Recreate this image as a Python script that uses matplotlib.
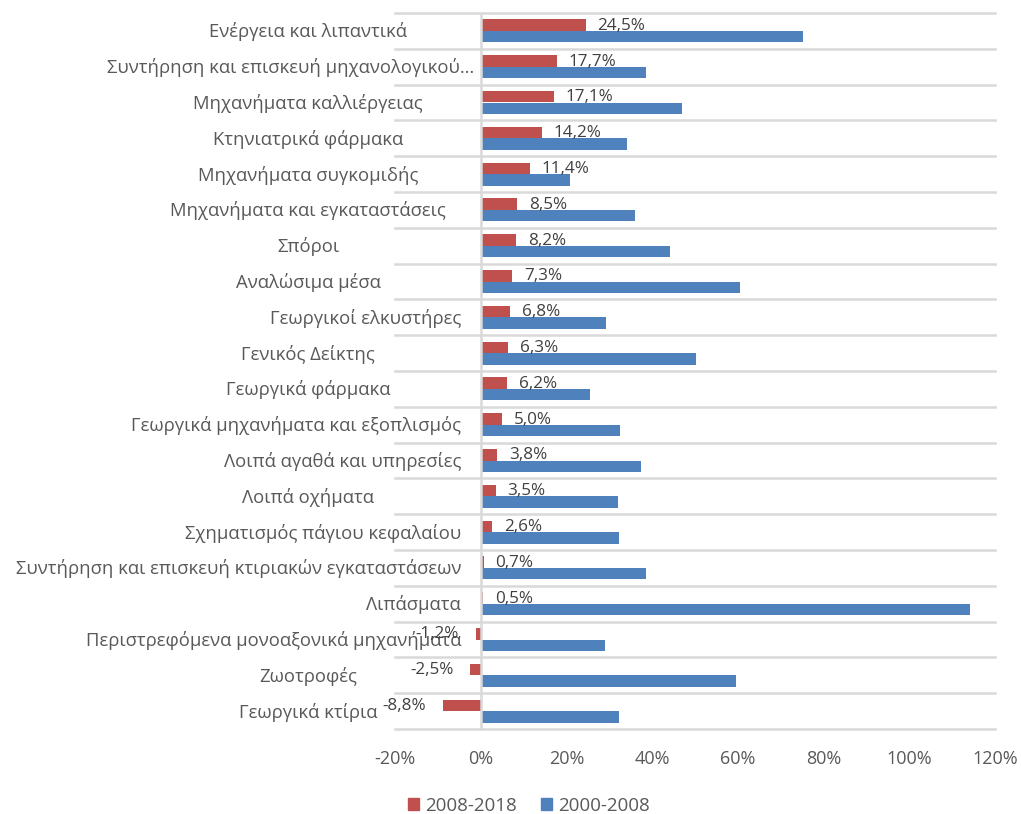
import matplotlib
matplotlib.use('Agg')
import matplotlib.pyplot as plt
import matplotlib.transforms as mtransforms
from matplotlib.patches import Patch
import numpy as np

plt.rcParams['font.family'] = ['Open Sans', 'DejaVu Sans']

categories = [
    'Ενέργεια και λιπαντικά',
    'Συντήρηση και επισκευή μηχανολογικού…',
    'Μηχανήματα καλλιέργειας',
    'Κτηνιατρικά φάρμακα',
    'Μηχανήματα συγκομιδής',
    'Μηχανήματα και εγκαταστάσεις',
    'Σπόροι',
    'Αναλώσιμα μέσα',
    'Γεωργικοί ελκυστήρες',
    'Γενικός Δείκτης',
    'Γεωργικά φάρμακα',
    'Γεωργικά μηχανήματα και εξοπλισμός',
    'Λοιπά αγαθά και υπηρεσίες',
    'Λοιπά οχήματα',
    'Σχηματισμός πάγιου κεφαλαίου',
    'Συντήρηση και επισκευή κτιριακών εγκαταστάσεων',
    'Λιπάσματα',
    'Περιστρεφόμενα μονοαξονικά μηχανήματα',
    'Ζωοτροφές',
    'Γεωργικά κτίρια',
]
v_2008_2018 = [24.5, 17.7, 17.1, 14.2, 11.4, 8.5, 8.2, 7.3, 6.8, 6.3,
               6.2, 5.0, 3.8, 3.5, 2.6, 0.7, 0.5, -1.2, -2.5, -8.8]
v_2000_2008 = [75.3, 38.6, 47.0, 34.2, 20.8, 36.0, 44.2, 60.6, 29.2, 50.3,
               25.5, 32.5, 37.4, 32.0, 32.3, 38.6, 114.2, 29.0, 59.6, 32.3]
series_names = ['2008-2018', '2000-2008']
xticks = [-20, 0, 20, 40, 60, 80, 100, 120]

# label alignment in the category area
# c = centered, r = right-aligned, w = wide label right-aligned a bit further
label_align = ['c', 'w', 'c', 'c', 'c', 'c', 'c', 'c', 'r', 'c',
               'c', 'r', 'r', 'c', 'r', 'r', 'r', 'r', 'c', 'c']

RED = '#C0504D'
BLUE = '#4F81BD'
GRID = '#D9D9D9'
TXT = '#595959'

W, H = 1021, 814
fig = plt.figure(figsize=(W / 100, H / 100), dpi=100)
ax = fig.add_axes([395 / W, 1 - 729 / H, 600 / W, 716 / H])

y = np.arange(len(categories))
bh = 0.32
ax.barh(y - bh / 2, v_2008_2018, height=bh, color=RED, zorder=2)
ax.barh(y + bh / 2, v_2000_2008, height=bh, color=BLUE, zorder=2)

ax.set_xlim(-20, 120)
ax.set_ylim(len(categories) - 0.5, -0.5)

ax.set_yticks(np.arange(-0.5, len(categories), 1.0))
ax.set_yticklabels([])
ax.tick_params(axis='y', length=0)
ax.grid(axis='y', color=GRID, lw=1.8, zorder=0)
ax.set_axisbelow(True)
for g in ax.get_ygridlines():
    g.set_clip_on(False)

ax.axvline(0, color=GRID, lw=1.8, zorder=3)

ax.set_xticks(xticks)
ax.set_xticklabels([f'{t}%' for t in xticks], fontsize=13, color=TXT)
ax.tick_params(axis='x', length=0, pad=15)

for s in ax.spines.values():
    s.set_visible(False)

trans = mtransforms.blended_transform_factory(ax.transAxes, ax.transData)
cx = (308 - 395) / 600
rx = (461 - 395) / 600
wx = (474 - 395) / 600
for i, (lab, al) in enumerate(zip(categories, label_align)):
    if al == 'r':
        x, ha = rx, 'right'
    elif al == 'w':
        x, ha = wx, 'right'
    else:
        x, ha = cx, 'center'
    ax.text(x, i + 0.03, lab, ha=ha, va='center', transform=trans,
            fontsize=13.3, color=TXT, zorder=1)

for i, v in enumerate(v_2008_2018):
    txt = f'{v:.1f}'.replace('.', ',') + '%'
    if v >= 0:
        ax.annotate(txt, xy=(v, i - bh / 2), xytext=(8.5, -0.5), textcoords='offset points',
                    ha='left', va='center', fontsize=12.3, color='#404040', zorder=5)
    else:
        ax.annotate(txt, xy=(v, i - bh / 2), xytext=(-12, -0.5), textcoords='offset points',
                    ha='right', va='center', fontsize=12.3, color='#404040', zorder=5)

handles = [Patch(color=RED), Patch(color=BLUE)]
fig.legend(handles, series_names, loc='center', bbox_to_anchor=(529 / W, 1 - 806 / H),
           ncol=2, frameon=False, handlelength=0.6, handleheight=0.6,
           handletextpad=0.3, columnspacing=1.3, fontsize=13.5, labelcolor=TXT)

fig.savefig('out.png', dpi=100)
